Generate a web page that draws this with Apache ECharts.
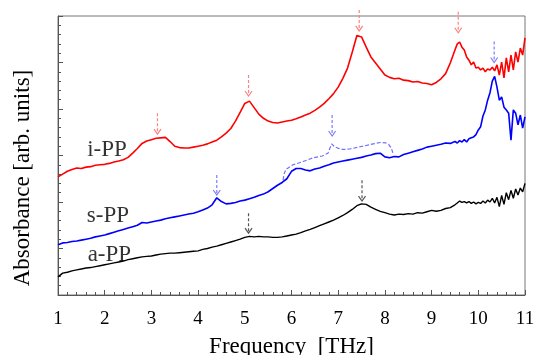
<!DOCTYPE html>
<html><head><meta charset="utf-8">
<script src="https://cdn.jsdelivr.net/npm/echarts@6/dist/echarts.min.js"></script>
<style>html,body{margin:0;padding:0;background:#fff}#c{width:536px;height:355px}</style>
</head><body><div id="c"></div><script>
const freq = [1.0,1.1,1.2,1.3,1.4,1.5,1.6,1.7,1.8,1.9,2.0,2.1,2.2,2.3,2.4,2.5,2.6,2.7,2.8,2.9,
3.0,3.1,3.2,3.3,3.4,3.5,3.6,3.7,3.8,3.9,4.0,4.1,4.2,4.3,4.4,4.5,4.6,4.7,4.8,4.9,
5.0,5.1,5.2,5.3,5.4,5.5,5.6,5.7,5.8,5.9,6.0,6.1,6.2,6.3,6.4,6.5,6.6,6.7,6.8,6.9,
7.0,7.1,7.2,7.3,7.4,7.5,7.6,7.7,7.8,7.9,8.0,8.1,8.2,8.3,8.4,8.5,8.6,8.7,8.8,8.9,
9.0,9.1,9.2,9.3,9.4,9.5,9.55,9.6,9.65,9.7,9.75,9.8,9.85,9.9,9.95,
10.0,10.05,10.1,10.15,10.2,10.25,10.3,10.35,10.4,10.45,10.5,10.55,10.6,10.65,10.7,10.75,10.8,10.85,10.9,10.95,11.0];
const iPP = [2.54,2.60,2.66,2.70,2.73,2.72,2.75,2.76,2.79,2.80,2.81,2.83,2.86,2.88,2.91,2.96,3.05,3.15,3.26,3.31,
3.34,3.37,3.38,3.39,3.30,3.20,3.17,3.16,3.16,3.18,3.20,3.22,3.25,3.29,3.33,3.40,3.48,3.58,3.74,3.93,
4.12,4.17,4.03,3.89,3.80,3.74,3.71,3.70,3.72,3.74,3.76,3.79,3.83,3.87,3.91,3.97,4.04,4.12,4.22,4.33,
4.47,4.66,4.88,5.22,5.58,5.55,5.33,5.12,4.99,4.86,4.73,4.68,4.65,4.66,4.62,4.61,4.58,4.59,4.56,4.55,
4.52,4.57,4.65,4.76,4.99,5.27,5.40,5.44,5.33,5.27,5.12,5.05,4.95,5.01,4.88,
4.90,4.84,4.88,4.80,4.86,4.84,4.90,4.82,4.95,4.73,5.01,4.67,5.10,4.80,5.16,4.84,5.23,5.01,5.31,5.16,5.53];
const sPP = [1.08,1.12,1.13,1.15,1.16,1.18,1.20,1.22,1.25,1.27,1.29,1.32,1.35,1.38,1.41,1.44,1.47,1.50,1.56,1.55,
1.57,1.59,1.61,1.64,1.66,1.68,1.70,1.72,1.74,1.76,1.79,1.83,1.87,1.94,2.09,2.01,1.96,1.97,1.99,2.02,
2.04,2.07,2.10,2.14,2.17,2.22,2.29,2.36,2.42,2.50,2.66,2.72,2.72,2.69,2.67,2.71,2.73,2.77,2.80,2.84,
2.86,2.88,2.90,2.92,2.94,2.96,2.99,3.01,3.04,3.05,2.97,2.95,2.98,2.97,3.02,3.05,3.08,3.11,3.14,3.18,
3.20,3.22,3.24,3.27,3.26,3.30,3.27,3.32,3.29,3.34,3.29,3.36,3.38,3.40,3.45,
3.55,3.62,3.85,3.98,4.19,4.35,4.60,4.70,4.47,4.19,4.26,4.04,3.98,3.91,3.33,3.98,3.91,3.66,3.87,3.59,3.83];
const aPP = [0.39,0.47,0.49,0.52,0.54,0.56,0.58,0.59,0.61,0.63,0.65,0.67,0.69,0.71,0.73,0.76,0.78,0.80,0.82,0.83,
0.84,0.86,0.88,0.89,0.90,0.90,0.91,0.92,0.93,0.94,0.95,0.98,1.00,1.03,1.05,1.08,1.11,1.14,1.17,1.20,
1.24,1.26,1.25,1.26,1.25,1.25,1.24,1.24,1.25,1.27,1.29,1.31,1.34,1.38,1.41,1.45,1.49,1.53,1.57,1.61,
1.66,1.71,1.77,1.84,1.92,1.96,1.95,1.89,1.84,1.80,1.77,1.74,1.72,1.74,1.73,1.75,1.74,1.77,1.76,1.79,
1.82,1.80,1.82,1.86,1.88,1.94,1.98,2.02,1.99,2.01,1.98,2.01,1.97,2.00,1.96,
1.99,1.97,2.02,1.98,2.04,2.00,2.08,1.98,2.10,1.90,2.14,1.95,2.20,2.05,2.25,2.08,2.28,2.15,2.30,2.22,2.40];
const guideFreq = [5.82,5.84,5.88,6.03,6.25,6.46,6.66,6.78,6.86,6.92,6.99,7.10,7.25,7.53,7.75,7.90,8.02,8.08,8.12,8.15,8.17];
const guideS = [2.47,2.60,2.70,2.80,2.87,2.95,2.99,3.05,3.25,3.19,3.16,3.13,3.14,3.20,3.25,3.28,3.27,3.24,3.18,3.12,3.06];
// arrows: [freq, top, tip]
const redArrows = [[3.13,3.91,3.46],[5.08,4.73,4.28],[7.45,6.13,5.68],[9.57,6.09,5.64]];
const blueArrows = [[4.40,2.58,2.15],[6.87,3.87,3.42],[10.34,5.45,5.00]];
const blackArrows = [[5.08,1.76,1.33],[7.51,2.47,2.02]];
const seriesLabels = [['i-PP',2.05,3.12],['s-PP',2.07,1.70],['a-PP',2.10,0.86]];

const FONT = 'Liberation Serif';
const chart = echarts.init(document.getElementById('c'), null, {renderer:'canvas'});
function arrowSeries(data, color){
  return {
    type:'custom', data:data, silent:true, z:5,
    renderItem:function(params, api){
      const p1 = api.coord([api.value(0), api.value(1)]);
      const p2 = api.coord([api.value(0), api.value(2)]);
      return {type:'group', children:[
        {type:'line', shape:{x1:p1[0],y1:p1[1],x2:p2[0],y2:p2[1]-1},
         style:{stroke:color, lineWidth:1.2, lineDash:[3,2]}},
        {type:'polyline', shape:{points:[[p2[0]-3.5,p2[1]-5],[p2[0],p2[1]],[p2[0]+3.5,p2[1]-5]]},
         style:{stroke:color, lineWidth:1.2, fill:null}}
      ]};
    }
  };
}
const axisColor = '#555';
chart.setOption({
  animation:false,
  backgroundColor:'#fff',
  grid:{left:58, right:11, top:16, bottom:60, containLabel:false, outerBoundsMode:'none',
    show:true, borderColor:'#777', borderWidth:1},
  xAxis:{type:'value', min:1, max:11, interval:1,
    name:'Frequency  [THz]', nameLocation:'middle', nameGap:40,
    nameTextStyle:{fontFamily:FONT, fontSize:23, color:'#000'},
    axisLine:{show:true, lineStyle:{color:axisColor}},
    axisTick:{show:true, inside:true, length:5, lineStyle:{color:axisColor}},
    minorTick:{show:true, splitNumber:5, length:3, lineStyle:{color:axisColor}},
    axisLabel:{fontFamily:FONT, fontSize:19, color:'#000', margin:15},
    splitLine:{show:false}},
  yAxis:{type:'value', min:0, max:6, interval:1,
    axisLine:{show:true, lineStyle:{color:axisColor}},
    axisTick:{show:true, inside:true, length:5, lineStyle:{color:axisColor}},
    minorTick:{show:true, splitNumber:5, length:3, lineStyle:{color:axisColor}},
    axisLabel:{show:false}, splitLine:{show:false}},
  graphic:[{type:'text', x:23, y:178, rotation:Math.PI/2,
    style:{text:'Absorbance [arb. units]', font:'23px "Liberation Serif"', fill:'#000', align:'center', verticalAlign:'middle'}}],
  series:[
    {type:'line', name:'a-PP', data:freq.map((f,i)=>[f,aPP[i]]), showSymbol:false, lineStyle:{color:'#000', width:1.4}, z:3},
    {type:'line', name:'s-PP', data:freq.map((f,i)=>[f,sPP[i]]), showSymbol:false, lineStyle:{color:'#0000ff', width:1.6}, z:3},
    {type:'line', name:'i-PP', data:freq.map((f,i)=>[f,iPP[i]]), showSymbol:false, lineStyle:{color:'#ff0000', width:1.6}, z:3},
    {type:'line', name:'guide', data:guideFreq.map((f,i)=>[f,guideS[i]]), showSymbol:false,
      lineStyle:{color:'#7070ff', width:1.2, type:[4,2]}, z:2},
    arrowSeries(redArrows, '#ff8080'),
    arrowSeries(blueArrows, '#7c7cff'),
    arrowSeries(blackArrows, '#555555'),
    {type:'scatter', symbolSize:0, data:seriesLabels.map(d=>({name:d[0], value:[d[1],d[2]]})),
      label:{show:true, position:'inside', formatter:'{b}', fontFamily:FONT, fontSize:23, color:'#000'}, z:6}
  ]
});
</script></body></html>
